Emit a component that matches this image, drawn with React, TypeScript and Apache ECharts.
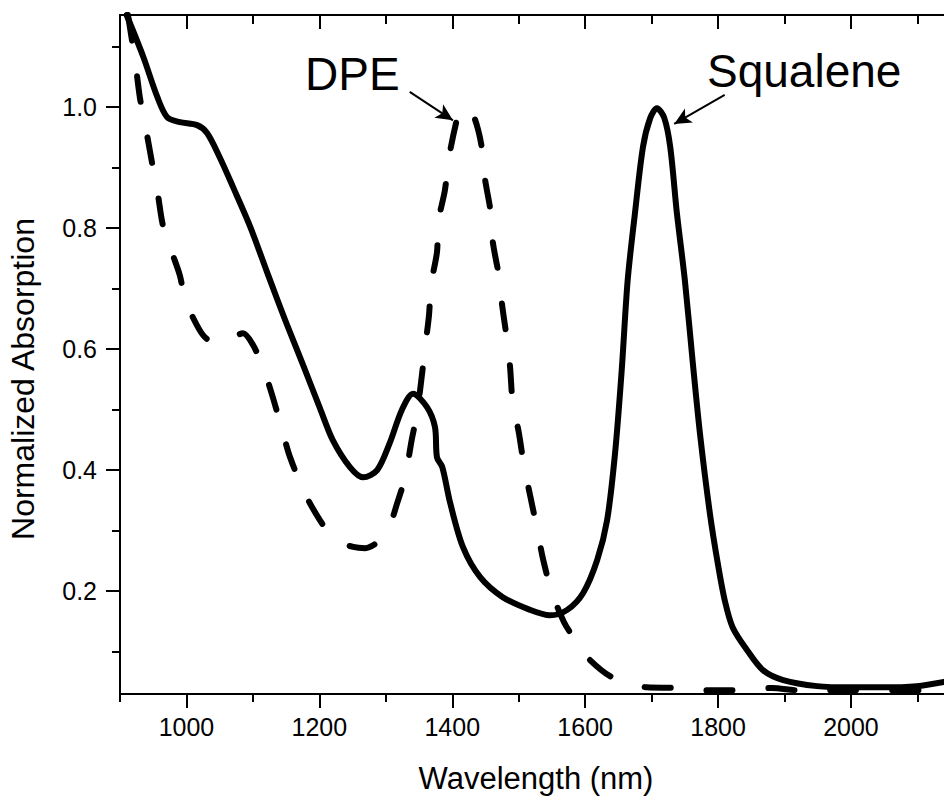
import React, { useEffect, useRef } from 'react';
import * as echarts from 'echarts';

// Squalene (solid line)
const squaleneWavelength = [
  910, 935, 956, 971, 990, 1016, 1031, 1050, 1070, 1096, 1121, 1136, 1151, 1175, 1201, 1220, 1246, 1266,
  1287, 1306, 1324, 1341, 1362, 1374, 1377, 1385, 1397, 1416, 1442, 1476, 1517, 1547, 1573, 1597, 1618,
  1633, 1645, 1655, 1664, 1675, 1687, 1698, 1708, 1719, 1728, 1738, 1750, 1762, 1773, 1788, 1800, 1810,
  1822, 1844, 1868, 1898, 1949, 1999, 2048, 2099, 2140,
];
const squaleneAbs = [
  1.152, 1.083, 1.017, 0.983, 0.975, 0.97, 0.957, 0.917, 0.868, 0.802, 0.728, 0.684, 0.641, 0.575, 0.502,
  0.45, 0.405, 0.388, 0.4, 0.445, 0.499, 0.526, 0.504, 0.471, 0.421, 0.405, 0.345, 0.273, 0.223, 0.19,
  0.169, 0.16, 0.169, 0.197, 0.251, 0.317, 0.428, 0.565, 0.714, 0.825, 0.934, 0.982, 0.998, 0.982, 0.934,
  0.825, 0.714, 0.577, 0.458, 0.326, 0.243, 0.185, 0.14, 0.102, 0.069, 0.053, 0.043, 0.041, 0.041, 0.043,
  0.05,
];

// DPE (dashed line)
const dpeWavelength = [
  912, 923, 930, 938, 948, 956, 965, 978, 990, 998, 1008, 1025, 1043, 1063, 1085, 1100, 1115, 1129, 1144,
  1156, 1178, 1201, 1224, 1251, 1269, 1291, 1306, 1317, 1329, 1339, 1347, 1354, 1359, 1365, 1368, 1377,
  1379, 1389, 1395, 1406, 1412, 1419, 1431, 1439, 1445, 1449, 1458, 1461, 1470, 1475, 1482, 1487, 1491,
  1500, 1508, 1517, 1528, 1537, 1550, 1568, 1585, 1600, 1640, 1693, 1735, 1785, 1830, 1881, 1923, 1999,
  2116, 2140,
];
const dpeAbs = [
  1.152, 1.074, 1.015, 0.97, 0.909, 0.863, 0.802, 0.76, 0.722, 0.681, 0.656, 0.623, 0.61, 0.615, 0.626,
  0.607, 0.57, 0.524, 0.466, 0.421, 0.362, 0.317, 0.284, 0.273, 0.271, 0.284, 0.309, 0.345, 0.388, 0.45,
  0.494, 0.554, 0.602, 0.656, 0.706, 0.76, 0.81, 0.863, 0.916, 0.975, 0.995, 1.0, 0.987, 0.962, 0.929,
  0.883, 0.825, 0.777, 0.722, 0.673, 0.618, 0.57, 0.511, 0.463, 0.407, 0.359, 0.301, 0.251, 0.198, 0.149,
  0.119, 0.094, 0.058, 0.041, 0.04, 0.036, 0.036, 0.04, 0.036, 0.036, 0.036, 0.036,
];

const xMajorTicks = [1000, 1200, 1400, 1600, 1800, 2000];
const xMinorTicks = [900, 1100, 1300, 1500, 1700, 1900, 2100];
const yMajorTicks = [0.2, 0.4, 0.6, 0.8, 1.0];
const yMinorTicks = [0.1, 0.3, 0.5, 0.7, 0.9, 1.1];
const xRange = [900, 2140];
const yRange = [0.03, 1.152];

const dpeArrow = [[1336, 1.025], [1401, 0.978]];
const squaleneArrow = [[1810, 1.02], [1734, 0.972]];

const FONT = '"Liberation Sans", Arial, Helvetica, sans-serif';

export default function App() {
  const ref = useRef<HTMLDivElement>(null);
  useEffect(() => {
    if (!ref.current) return;
    const chart = echarts.init(ref.current, null, { renderer: 'svg' });
    const axisLine = { show: true, lineStyle: { color: '#000', width: 2 } };
    const mkX = (position: string, ticks: number[], len: number, inside: boolean, showLine: boolean, labels: boolean) => ({
      type: 'value',
      gridIndex: 0,
      position,
      min: xRange[0],
      max: xRange[1],
      axisLine: showLine ? axisLine : { show: false },
      axisTick: { show: true, inside, length: len, customValues: ticks, lineStyle: { color: '#000', width: 2 } },
      axisLabel: labels
        ? {
            show: true,
            customValues: ticks,
            fontSize: 25,
            fontFamily: FONT,
            color: '#000',
            margin: 20,
            formatter: (v: number) => String(Math.round(v)),
          }
        : { show: false },
      splitLine: { show: false },
    });
    const mkY = (ticks: number[], len: number, showLine: boolean, labels: boolean) => ({
      type: 'value',
      gridIndex: 0,
      position: 'left',
      min: yRange[0],
      max: yRange[1],
      axisLine: showLine ? axisLine : { show: false },
      axisTick: { show: true, inside: false, length: len, customValues: ticks, lineStyle: { color: '#000', width: 2 } },
      axisLabel: labels
        ? {
            show: true,
            customValues: ticks,
            fontSize: 25,
            fontFamily: FONT,
            color: '#000',
            margin: 23,
            formatter: (v: number) => v.toFixed(1),
          }
        : { show: false },
      splitLine: { show: false },
    });

    const arrowMark = (pts: number[][]) => ({
      silent: true,
      symbol: ['none', 'arrow'],
      symbolSize: [12, 17],
      lineStyle: { color: '#000', width: 2, type: 'solid' },
      label: { show: false },
      emphasis: { disabled: true },
      data: [[{ coord: pts[0] }, { coord: pts[1] }]],
    });

    chart.setOption({
      animation: false,
      backgroundColor: '#fff',
      grid: { left: 120, top: 15, width: 824, height: 679, containLabel: false },
      xAxis: [
        mkX('bottom', xMajorTicks, 14, false, true, true),
        mkX('bottom', xMinorTicks, 8, false, false, false),
        mkX('top', xMajorTicks, 14, true, true, false),
        mkX('top', xMinorTicks, 9, true, false, false),
      ],
      yAxis: [mkY(yMajorTicks, 14, true, true), mkY(yMinorTicks, 8, false, false)],
      series: [
        {
          name: 'Squalene',
          type: 'line',
          xAxisIndex: 0,
          yAxisIndex: 0,
          data: squaleneWavelength.map((x, i) => [x, squaleneAbs[i]]),
          symbol: 'none',
          smooth: 0.3,
          clip: true,
          lineStyle: { color: '#000', width: 6, cap: 'round', join: 'round' },
          markLine: arrowMark(squaleneArrow),
        },
        {
          name: 'DPE',
          type: 'line',
          xAxisIndex: 0,
          yAxisIndex: 0,
          data: dpeWavelength.map((x, i) => [x, dpeAbs[i]]),
          symbol: 'none',
          smooth: 0.3,
          clip: true,
          lineStyle: { color: '#000', width: 6, type: [26, 36], cap: 'round', join: 'round' },
          markLine: arrowMark(dpeArrow),
        },
      ],
      graphic: [
        {
          type: 'text',
          x: 305,
          y: 74,
          style: { text: 'DPE', fontSize: 46, fontFamily: FONT, fill: '#000', align: 'left', verticalAlign: 'middle', textAlign: 'left', textVerticalAlign: 'middle' },
        },
        {
          type: 'text',
          x: 707,
          y: 71,
          style: { text: 'Squalene', fontSize: 46, fontFamily: FONT, fill: '#000', align: 'left', verticalAlign: 'middle', textAlign: 'left', textVerticalAlign: 'middle' },
        },
        {
          type: 'text',
          x: 536,
          y: 778,
          style: { text: 'Wavelength (nm)', fontSize: 31, fontFamily: FONT, fill: '#000', align: 'center', verticalAlign: 'middle', textAlign: 'center', textVerticalAlign: 'middle' },
        },
        {
          type: 'text',
          x: 23,
          y: 379,
          rotation: Math.PI / 2,
          style: { text: 'Normalized Absorption', fontSize: 32, fontFamily: FONT, fill: '#000', align: 'center', verticalAlign: 'middle', textAlign: 'center', textVerticalAlign: 'middle' },
        },
      ],
    });
    return () => chart.dispose();
  }, []);
  return <div ref={ref} style={{ position: 'absolute', left: 0, top: 0, width: 944, height: 800 }} />;
}
